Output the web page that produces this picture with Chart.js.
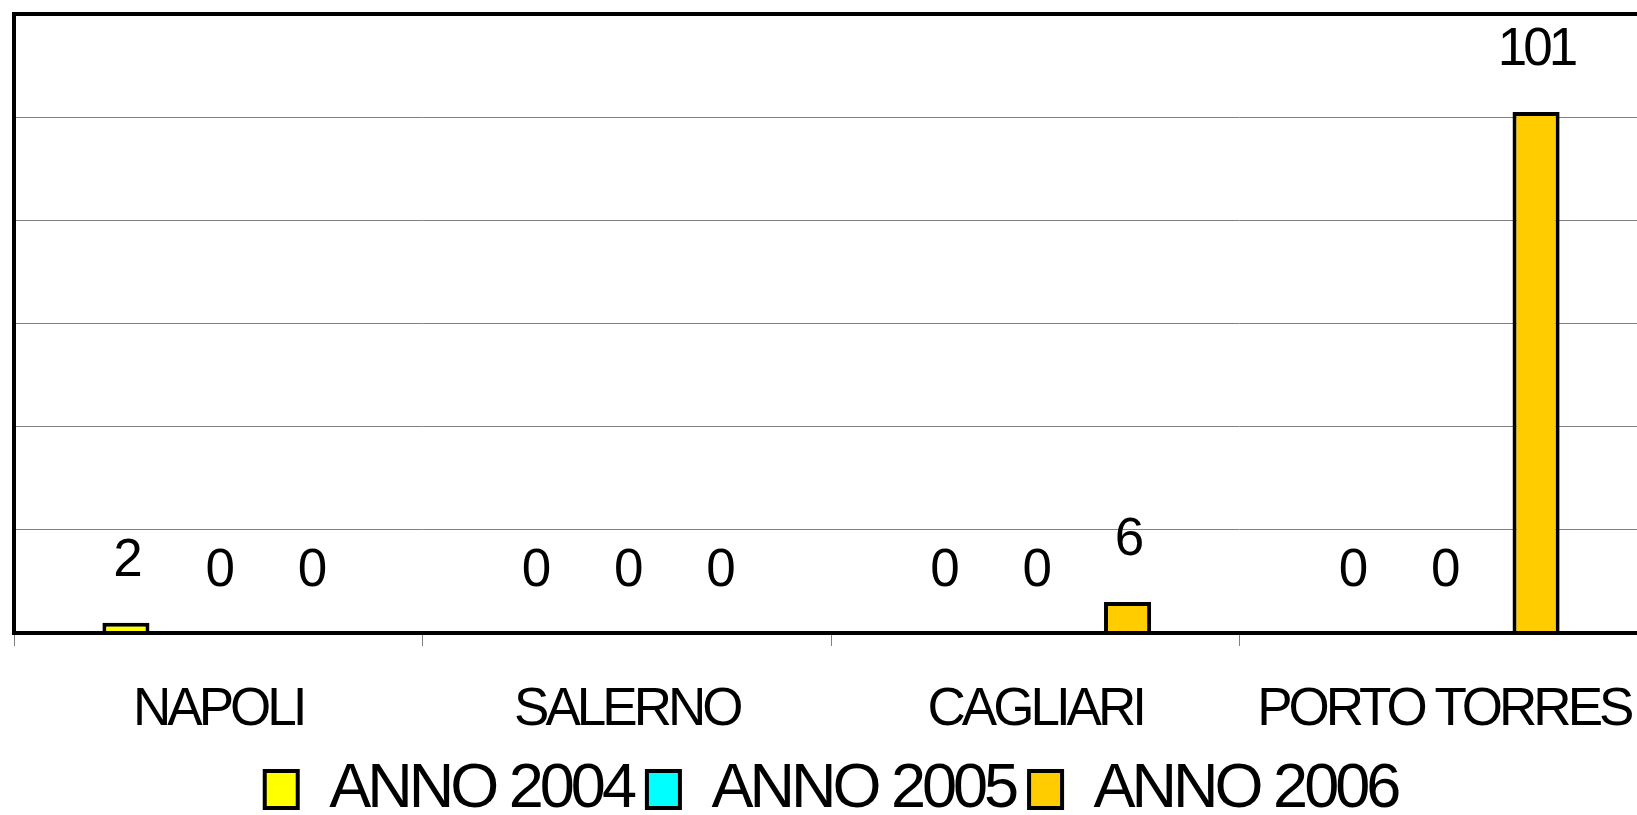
<!DOCTYPE html>
<html>
<head>
<meta charset="utf-8">
<script src="https://cdn.jsdelivr.net/npm/chart.js@4.4.0/dist/chart.umd.min.js"></script>
<style>
	html, body { margin: 0; padding: 0; background: #fff; overflow: hidden; }
	#porti_chart { display: block; }
</style>
</head>
<body>
<canvas id="porti_chart" width="1650" height="815"></canvas>
<script>
var portList = ["NAPOLI", "SALERNO", "CAGLIARI", "PORTO TORRES"];
var yearList = ["ANNO 2004", "ANNO 2005", "ANNO 2006"];
var anno2004List = [2, 0, 0, 0];
var anno2005List = [0, 0, 0, 0];
var anno2006List = [0, 0, 6, 101];
var colorList = ["#FFFF00", "#00FFFF", "#FFCC00"];
var yMax = 120;
var yStep = 20;

var fontName = "'Liberation Sans', Arial, sans-serif";


// the original text is set tight, so squeeze the letters a bit
var tightTextPlugin = {
	id: "tightText",
	beforeLayout: function (chart) {
		chart.ctx.letterSpacing = "-4px";
	},
	beforeDraw: function (chart) {
		chart.ctx.letterSpacing = "-4px";
	}
};

// black frame round the plot area
var framePlugin = {
	id: "frame",
	afterDatasetsDraw: function (chart) {
		var a = chart.chartArea;
		var ctx = chart.ctx;
		ctx.save();
		ctx.strokeStyle = "#000";
		ctx.lineWidth = 4;
		ctx.strokeRect(a.left, a.top, a.right - a.left, a.bottom - a.top);
		ctx.restore();
	}
};

// value written above every bar
var valuePlugin = {
	id: "values",
	afterDraw: function (chart) {
		var ctx = chart.ctx;
		ctx.save();
		ctx.font = "53px " + fontName;
		ctx.fillStyle = "#000";
		ctx.textAlign = "center";
		ctx.textBaseline = "alphabetic";
		chart.data.datasets.forEach(function (ds, i) {
			var meta = chart.getDatasetMeta(i);
			meta.data.forEach(function (bar, j) {
				ctx.fillText(String(ds.data[j]), bar.x, bar.y - 47);
			});
		});
		ctx.restore();
	}
};


function makeDataset(label, dataList, color) {
	return {
		label: label,
		data: dataList,
		backgroundColor: color,
		borderColor: "#000",
		borderWidth: 4,
		barPercentage: 0.51,
		categoryPercentage: 0.678
	};
}


var ctx = document.getElementById("porti_chart").getContext("2d");
new Chart(ctx, {
	type: "bar",
	data: {
		labels: portList,
		datasets: [
			makeDataset(yearList[0], anno2004List, colorList[0]),
			makeDataset(yearList[1], anno2005List, colorList[1]),
			makeDataset(yearList[2], anno2006List, colorList[2])
		]
	},
	options: {
		responsive: false,
		animation: false,
		layout: {
			padding: { left: 14, right: 2, top: 14, bottom: -16 }
		},
		plugins: {
			legend: {
				position: "bottom",
				labels: {
					boxWidth: 33,
					boxHeight: 37,
					padding: 14,
					color: "#000",
					font: { family: fontName, size: 63 }
				}
			},
			tooltip: { enabled: false }
		},
		scales: {
			x: {
				grid: {
					display: true,
					drawOnChartArea: false,
					drawTicks: true,
					tickLength: 13,
					color: "#808080",
					lineWidth: 1
				},
				border: { display: false },
				ticks: {
					color: "#000",
					padding: 15,
					maxRotation: 0,
					minRotation: 0,
					autoSkip: false,
					font: { family: fontName, size: 53, lineHeight: 1.87 }
				},
				afterFit: function (scale) {
					scale.height = 111;
				}
			},
			y: {
				min: 0,
				max: yMax,
				ticks: { display: false, stepSize: yStep },
				grid: {
					color: "#808080",
					lineWidth: 1,
					drawTicks: false
				},
				border: { display: false }
			}
		}
	},
	plugins: [tightTextPlugin, framePlugin, valuePlugin]
});
</script>
</body>
</html>
